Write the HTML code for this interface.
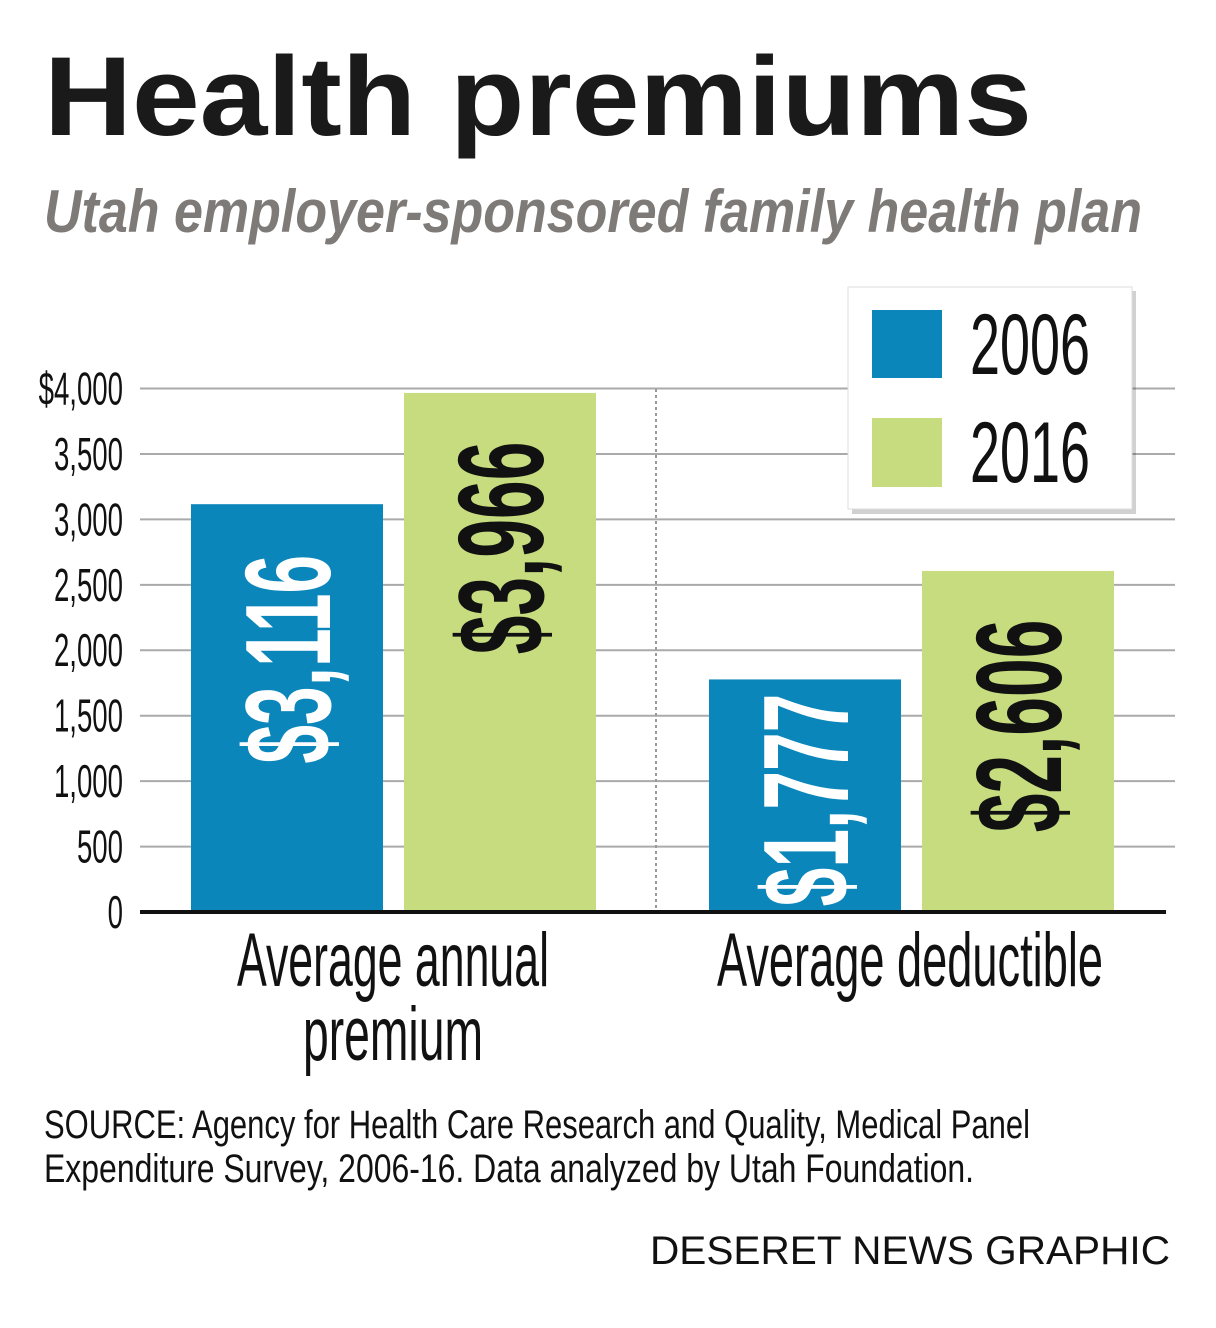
<!DOCTYPE html>
<html><head><meta charset="utf-8"><style>
html,body{margin:0;padding:0;background:#fff;width:1216px;height:1328px;overflow:hidden}
svg{display:block}
.n{font-family:"Liberation Sans Narrow","Liberation Sans",sans-serif}
</style></head><body>
<svg id="chart" width="1216" height="1328" viewBox="0 0 1216 1328" xmlns="http://www.w3.org/2000/svg">
<text x="44" y="135" font-family="Liberation Sans, sans-serif" font-weight="bold" font-size="112" fill="#1a1a1a" textLength="988" lengthAdjust="spacingAndGlyphs">Health premiums</text>
<text x="44" y="232" font-family="Liberation Sans, sans-serif" font-style="italic" font-weight="bold" font-size="60" fill="#7d7a78" textLength="1098" lengthAdjust="spacingAndGlyphs">Utah employer-sponsored family health plan</text>
<g id="grid"></g>
<line x1="656" y1="389" x2="656" y2="912" stroke="#999" stroke-width="2" stroke-dasharray="3,3"/>
<g id="bars"></g>
<line x1="140" y1="912" x2="1166" y2="912" stroke="#111" stroke-width="4"/>
<g id="legend">
<rect x="852" y="291" width="284" height="223" fill="#000" opacity="0.18"/>
<rect x="848" y="287" width="284" height="222" fill="#fff" stroke="#ddd" stroke-width="1"/>
<rect x="872" y="310" width="70" height="68" fill="#0a86bb"/>
<rect x="872" y="418" width="70" height="69" fill="#c6dc7f"/>
<text class="n" x="970" y="374" font-size="86" fill="#111" textLength="120" lengthAdjust="spacingAndGlyphs">2006</text>
<text class="n" x="970" y="482" font-size="86" fill="#111" textLength="120" lengthAdjust="spacingAndGlyphs">2016</text>
</g>
<g class="n" font-size="76" fill="#111" text-anchor="middle">
<text x="393" y="986" textLength="312" lengthAdjust="spacingAndGlyphs">Average annual</text>
<text x="393" y="1060" textLength="180" lengthAdjust="spacingAndGlyphs">premium</text>
</g>
<text class="n" font-size="76" fill="#111" text-anchor="middle" x="910" y="986" textLength="386" lengthAdjust="spacingAndGlyphs">Average deductible</text>
<text class="n" x="44" y="1138" font-size="40" fill="#111" textLength="986" lengthAdjust="spacingAndGlyphs">SOURCE: Agency for Health Care Research and Quality, Medical Panel</text>
<text class="n" x="44" y="1182" font-size="40" fill="#111" textLength="930" lengthAdjust="spacingAndGlyphs">Expenditure Survey, 2006-16. Data analyzed by Utah Foundation.</text>
<text x="1170" y="1264" text-anchor="end" font-family="Liberation Sans, sans-serif" font-size="40" fill="#111" textLength="520" lengthAdjust="spacingAndGlyphs">DESERET NEWS GRAPHIC</text>
</svg>
<script>
const categories=["Average annual premium","Average deductible"];
const values2006=[3116,1777];
const values2016=[3966,2606];
const ticks=[0,500,1000,1500,2000,2500,3000,3500,4000];
const tickLabels=["0","500","1,000","1,500","2,000","2,500","3,000","3,500","$4,000"];
const NS="http://www.w3.org/2000/svg";
const y=v=>912-v*(912-388.5)/4000;
const groupX=[191,709];
function mk(t,a,p){const e=document.createElementNS(NS,t);for(const k in a)e.setAttribute(k,a[k]);p.appendChild(e);return e;}
const grid=document.getElementById('grid');
const s=0.6;
ticks.forEach((t,i)=>{
  if(t>0){const l=mk('line',{x1:140,x2:1175,y1:y(t),y2:y(t),stroke:'#aaa','stroke-width':2},grid);
  
  }
  const tx=mk('text',{x:123,y:y(t)+16,'text-anchor':'end','font-size':46,fill:'#111',class:'n'},grid);
  
  
  tx.textContent=tickLabels[i];
  tx.setAttribute('transform',`translate(${123*(1-s)},0) scale(${s},1)`);
});
const bars=document.getElementById('bars');
function bar(x,v,fill,tc,nm){
  const r=mk('rect',{x:x,y:y(v),width:192,height:912-y(v),fill:fill},bars);
  
  
  const str='$'+v.toLocaleString('en-US');
  const cx=x+96,cy=Math.min(y(v)+155,800);
  const t=mk('text',{x:0,y:0,'text-anchor':'middle','font-size':122,'font-weight':'bold',fill:tc,class:'n',transform:`translate(${cx+43},${cy}) rotate(-90) scale(0.57,1)`},bars);
  
  
  t.textContent=str;
}
categories.forEach((c,i)=>{
  bar(groupX[i],values2006[i],'#0a86bb','#fff','bar-2006-'+i);
  bar(groupX[i]+213,values2016[i],'#c6dc7f','#111','bar-2016-'+i);
});
</script>
</body></html>
